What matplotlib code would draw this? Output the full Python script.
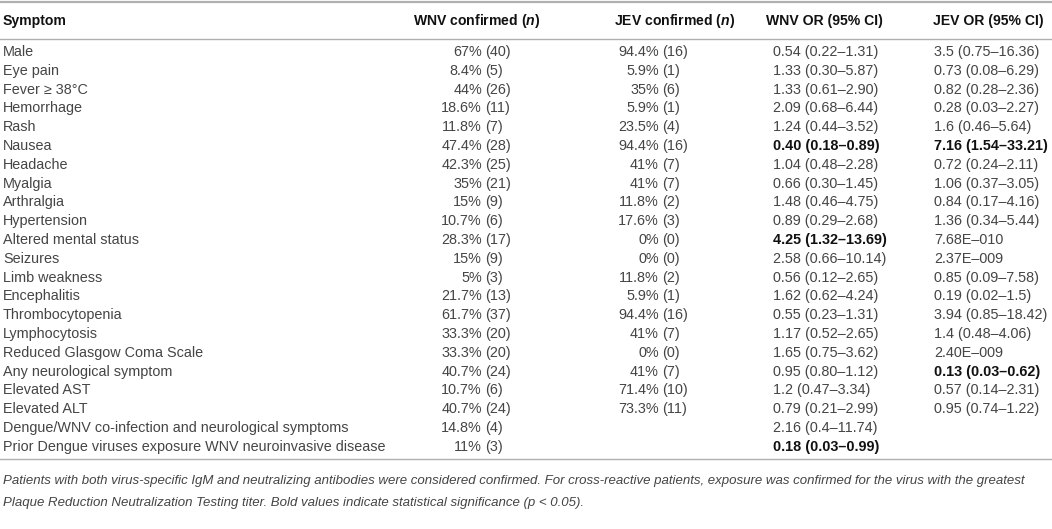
import matplotlib
matplotlib.use("Agg")
import matplotlib.pyplot as plt

plt.rcParams["font.family"] = ["Liberation Sans", "DejaVu Sans"]
plt.rcParams["mathtext.fontset"] = "custom"
plt.rcParams["mathtext.rm"] = "Liberation Sans:bold"
plt.rcParams["mathtext.it"] = "Liberation Sans:bold:italic"

# データ
symptoms = [
    "Male", "Eye pain", "Fever \u2265 38\u00b0C", "Hemorrhage", "Rash", "Nausea",
    "Headache", "Myalgia", "Arthralgia", "Hypertension", "Altered mental status",
    "Seizures", "Limb weakness", "Encephalitis", "Thrombocytopenia", "Lymphocytosis",
    "Reduced Glasgow Coma Scale", "Any neurological symptom", "Elevated AST",
    "Elevated ALT", "Dengue/WNV co-infection and neurological symptoms",
    "Prior Dengue viruses exposure WNV neuroinvasive disease",
]
wnv_pct = ["67%", "8.4%", "44%", "18.6%", "11.8%", "47.4%", "42.3%", "35%", "15%",
           "10.7%", "28.3%", "15%", "5%", "21.7%", "61.7%", "33.3%", "33.3%",
           "40.7%", "10.7%", "40.7%", "14.8%", "11%"]
wnv_n = [40, 5, 26, 11, 7, 28, 25, 21, 9, 6, 17, 9, 3, 13, 37, 20, 20, 24, 6, 24, 4, 3]
jev_pct = ["94.4%", "5.9%", "35%", "5.9%", "23.5%", "94.4%", "41%", "41%", "11.8%",
           "17.6%", "0%", "0%", "11.8%", "5.9%", "94.4%", "41%", "0%", "41%",
           "71.4%", "73.3%", None, None]
jev_n = [16, 1, 6, 1, 4, 16, 7, 7, 2, 3, 0, 0, 2, 1, 16, 7, 0, 7, 10, 11, None, None]
wnv_or = ["0.54 (0.22\u20131.31)", "1.33 (0.30\u20135.87)", "1.33 (0.61\u20132.90)",
          "2.09 (0.68\u20136.44)", "1.24 (0.44\u20133.52)", "0.40 (0.18\u20130.89)",
          "1.04 (0.48\u20132.28)", "0.66 (0.30\u20131.45)", "1.48 (0.46\u20134.75)",
          "0.89 (0.29\u20132.68)", "4.25 (1.32\u201313.69)", "2.58 (0.66\u201310.14)",
          "0.56 (0.12\u20132.65)", "1.62 (0.62\u20134.24)", "0.55 (0.23\u20131.31)",
          "1.17 (0.52\u20132.65)", "1.65 (0.75\u20133.62)", "0.95 (0.80\u20131.12)",
          "1.2 (0.47\u20133.34)", "0.79 (0.21\u20132.99)", "2.16 (0.4\u201311.74)",
          "0.18 (0.03\u20130.99)"]
jev_or = ["3.5 (0.75\u201316.36)", "0.73 (0.08\u20136.29)", "0.82 (0.28\u20132.36)",
          "0.28 (0.03\u20132.27)", "1.6 (0.46\u20135.64)", "7.16 (1.54\u201333.21)",
          "0.72 (0.24\u20132.11)", "1.06 (0.37\u20133.05)", "0.84 (0.17\u20134.16)",
          "1.36 (0.34\u20135.44)", "7.68E\u2013010", "2.37E\u2013009",
          "0.85 (0.09\u20137.58)", "0.19 (0.02\u20131.5)", "3.94 (0.85\u201318.42)",
          "1.4 (0.48\u20134.06)", "2.40E\u2013009", "0.13 (0.03\u20130.62)",
          "0.57 (0.14\u20132.31)", "0.95 (0.74\u20131.22)", "", ""]
wnv_bold = [5, 10, 21]
jev_bold = [5, 17]
footnote = [
    "Patients with both virus-specific IgM and neutralizing antibodies were considered confirmed. "
    "For cross-reactive patients, exposure was confirmed for the virus with the greatest",
    "Plaque Reduction Neutralization Testing titer. Bold values indicate statistical significance (p < 0.05).",
]

W, H = 1052, 529
fig = plt.figure(figsize=(W / 100, H / 100), dpi=100)
ax = fig.add_axes([0, 0, 1, 1])
ax.set_xlim(0, W)
ax.set_ylim(H, 0)
ax.axis("off")

fs = 10.4
hfs = 10.1
body = "#454545"
head = "#111111"
line_c = "#b0b0b0"

# 罫線
ax.plot([0, W], [2, 2], color=line_c, lw=1.6, solid_capstyle="butt")
ax.plot([0, W], [39, 39], color=line_c, lw=1.0)
ax.plot([0, W], [459, 459], color=line_c, lw=1.0)

# ヘッダー
hy = 21
ax.text(3, hy, "Symptom", fontsize=hfs, weight="bold", color=head, va="center")
ax.text(540, hy, r"WNV confirmed ($\mathit{n}$)", fontsize=hfs, weight="bold", color=head,
        va="center", ha="right")
ax.text(675, hy, r"JEV confirmed ($\mathit{n}$)", fontsize=hfs, weight="bold", color=head,
        va="center", ha="center")
ax.text(766, hy, "WNV OR (95% CI)", fontsize=hfs, weight="bold", color=head, va="center")
ax.text(933, hy, "JEV OR (95% CI)", fontsize=hfs, weight="bold", color=head, va="center")

# 本体
y0, dy = 52, 18.8
x_wp, x_jp = 482, 659
for i, s in enumerate(symptoms):
    y = y0 + i * dy
    ax.text(3, y, s, fontsize=fs, color=body, va="center")
    ax.text(x_wp, y, wnv_pct[i], fontsize=fs, color=body, va="center", ha="right")
    ax.text(x_wp + 3.5, y, f"({wnv_n[i]})", fontsize=fs, color=body, va="center")
    if jev_pct[i] is not None:
        ax.text(x_jp, y, jev_pct[i], fontsize=fs, color=body, va="center", ha="right")
        ax.text(x_jp + 3.5, y, f"({jev_n[i]})", fontsize=fs, color=body, va="center")
    b = i in wnv_bold
    ax.text(773, y, wnv_or[i], fontsize=fs, va="center",
            color=head if b else body, weight="bold" if b else "normal")
    b = i in jev_bold
    ax.text(934, y, jev_or[i], fontsize=fs, va="center",
            color=head if b else body, weight="bold" if b else "normal")

# 注記
for k, t in enumerate(footnote):
    ax.text(3, 481 + k * 22, t, fontsize=9.5, style="italic", color="#444444", va="center")

fig.savefig("out.png", dpi=100)
